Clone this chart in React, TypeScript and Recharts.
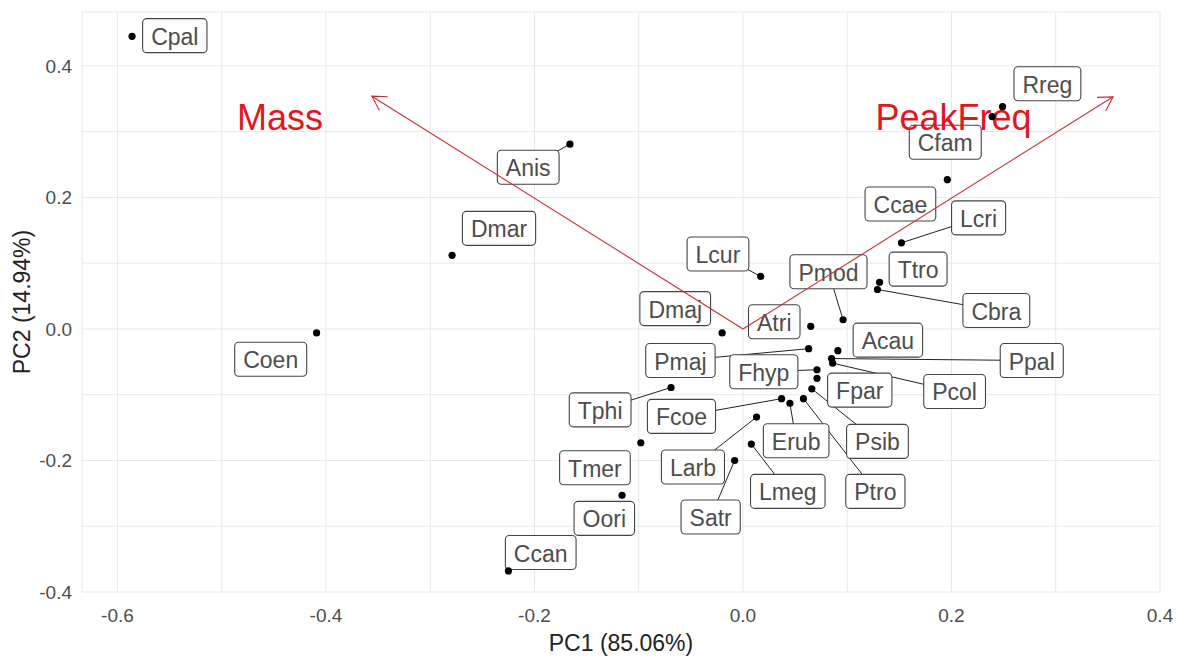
import React from "react";
import { ScatterChart, Scatter, XAxis, YAxis, CartesianGrid } from "recharts";

// species scores on the first two PCs
const species = [
  "Cpal", "Anis", "Dmar", "Coen", "Lcur", "Pmod", "Dmaj", "Atri", "Pmaj", "Fhyp",
  "Fpar", "Acau", "Ppal", "Pcol", "Cbra", "Ttro", "Lcri", "Ccae", "Cfam", "Rreg",
  "Tphi", "Fcoe", "Erub", "Psib", "Ptro", "Larb", "Tmer", "Lmeg", "Satr", "Oori", "Ccan",
];
const pc1 = [
  -0.586, -0.166, -0.279, -0.409, 0.017, 0.096, -0.020, 0.065, 0.063, 0.071,
  0.071, 0.091, 0.085, 0.086, 0.129, 0.131, 0.152, 0.196, 0.239, 0.249,
  -0.069, 0.037, 0.045, 0.066, 0.058, 0.013, -0.098, 0.008, -0.008, -0.116, -0.225,
];
const pc2 = [
  0.445, 0.281, 0.112, -0.006, 0.080, 0.014, -0.006, 0.004, -0.030, -0.062,
  -0.075, -0.033, -0.045, -0.052, 0.060, 0.071, 0.131, 0.227, 0.323, 0.338,
  -0.089, -0.106, -0.113, -0.091, -0.106, -0.134, -0.173, -0.175, -0.200, -0.253, -0.368,
];

// where the repelled labels ended up
const labelPc1 = [
  -0.545, -0.206, -0.234, -0.453, -0.024, 0.082, -0.065, 0.030, -0.060, 0.020,
  0.112, 0.139, 0.277, 0.203, 0.243, 0.168, 0.226, 0.151, 0.194, 0.292,
  -0.137, -0.059, 0.051, 0.129, 0.127, -0.048, -0.142, 0.043, -0.031, -0.133, -0.194,
];
const labelPc2 = [
  0.446, 0.246, 0.153, -0.046, 0.114, 0.087, 0.031, 0.011, -0.048, -0.065,
  -0.093, -0.017, -0.048, -0.095, 0.028, 0.091, 0.169, 0.190, 0.284, 0.373,
  -0.123, -0.133, -0.170, -0.171, -0.247, -0.210, -0.211, -0.247, -0.286, -0.288, -0.340,
];
const hasSegment = [
  false, true, false, false, true, true, false, false, true, true,
  false, false, true, true, true, false, true, false, false, false,
  true, true, true, true, true, true, false, true, true, false, false,
];

// variable loadings (arrows)
const variables = ["Mass", "PeakFreq"];
const loadPc1 = [-0.356, 0.355];
const loadPc2 = [0.354, 0.353];
const varLabelPc1 = [-0.444, 0.202];
const varLabelPc2 = [0.322, 0.322];

const majorX = [-0.6, -0.4, -0.2, 0, 0.2, 0.4];
const minorX = [-0.5, -0.3, -0.1, 0.1, 0.3];
const majorY = [-0.4, -0.2, 0, 0.2, 0.4];
const minorY = [-0.3, -0.1, 0.1, 0.3];

const FONT = '"Liberation Sans", Arial, sans-serif';
const LABEL_SIZE = 23;

const points = species.map((name, i) => ({ name, x: pc1[i], y: pc2[i] }));
const labels = species.map((name, i) => ({ name, x: labelPc1[i], y: labelPc2[i] }));
const segments = species
  .map((name, i) => ({
    name,
    on: hasSegment[i],
    data: [
      { x: pc1[i], y: pc2[i] },
      { x: labelPc1[i], y: labelPc2[i] },
    ],
  }))
  .filter((s) => s.on);
const arrows = variables.map((name, i) => ({
  name,
  data: [
    { x: 0, y: 0 },
    { x: loadPc1[i], y: loadPc2[i] },
  ],
}));
const varLabels = variables.map((name, i) => ({ name, x: varLabelPc1[i], y: varLabelPc2[i] }));

let ctx: CanvasRenderingContext2D | null = null;
function textWidth(s: string, font: string) {
  if (!ctx) ctx = document.createElement("canvas").getContext("2d");
  if (!ctx) return s.length * 12;
  ctx.font = font;
  return ctx.measureText(s).width;
}

const Empty = () => <g />;

const Dot = (props: any) => <circle cx={props.cx} cy={props.cy} r={3.6} fill="#000" />;

const LabelBox = (props: any) => {
  const { cx, cy, payload } = props;
  const w = textWidth(payload.name, `${LABEL_SIZE}px ${FONT}`) + 17;
  const h = 34;
  return (
    <g>
      <rect x={cx - w / 2} y={cy - h / 2} width={w} height={h} rx={4} fill="#fff" stroke="#444" strokeWidth={1.1} />
      <text x={cx} y={cy + 9} textAnchor="middle" fontSize={LABEL_SIZE} fontFamily={FONT} fill="#4d4d4d">
        {payload.name}
      </text>
    </g>
  );
};

const VarLabel = (props: any) => (
  <text x={props.cx} y={props.cy + 13} textAnchor="middle" fontSize={36} fontFamily={FONT} fill="#e3161c">
    {props.payload.name}
  </text>
);

const arrowLine = (props: any) => {
  const pts = props.points || [];
  if (pts.length < 2) return <g />;
  const a = { x: pts[0].x ?? pts[0].cx, y: pts[0].y ?? pts[0].cy };
  const b = { x: pts[1].x ?? pts[1].cx, y: pts[1].y ?? pts[1].cy };
  const ang = Math.atan2(b.y - a.y, b.x - a.x);
  const len = 16;
  const spread = Math.PI / 6;
  const l = [b.x - len * Math.cos(ang - spread), b.y - len * Math.sin(ang - spread)];
  const r = [b.x - len * Math.cos(ang + spread), b.y - len * Math.sin(ang + spread)];
  return (
    <g stroke="#c8302f" strokeWidth={1.1} fill="none">
      <line x1={a.x} y1={a.y} x2={b.x} y2={b.y} />
      <polyline points={`${l[0]},${l[1]} ${b.x},${b.y} ${r[0]},${r[1]}`} />
    </g>
  );
};

const XTick = (props: any) => {
  const v = props.payload.value;
  if (!majorX.includes(v)) return <g />;
  return (
    <text x={props.x} y={props.y + 30} textAnchor="middle" fontSize={19} fontFamily={FONT} fill="#4d4d4d">
      {v.toFixed(1)}
    </text>
  );
};

const YTick = (props: any) => {
  const v = props.payload.value;
  if (!majorY.includes(v)) return <g />;
  return (
    <text x={props.x - 10} y={props.y + 7} textAnchor="end" fontSize={19} fontFamily={FONT} fill="#4d4d4d">
      {v.toFixed(1)}
    </text>
  );
};

const XTitle = (props: any) => {
  const vb = props.viewBox;
  return (
    <text x={vb.x + vb.width / 2} y={vb.y + 59} textAnchor="middle" fontSize={23} fontFamily={FONT} fill="#222">
      PC1 (85.06%)
    </text>
  );
};

const YTitle = (props: any) => {
  const vb = props.viewBox;
  const cy = vb.y + vb.height / 2;
  return (
    <text
      transform={`translate(30, ${cy}) rotate(-90)`}
      textAnchor="middle"
      fontSize={23}
      fontFamily={FONT}
      fill="#222"
    >
      PC2 (14.94%)
    </text>
  );
};

export default function App() {
  const xTicks = [...majorX, ...minorX].sort((a, b) => a - b);
  const yTicks = [...majorY, ...minorY].sort((a, b) => a - b);
  return (
    <div style={{ position: "absolute", left: 0, top: 0, background: "#fff" }}>
      <ScatterChart width={1179} height={659} margin={{ top: 12, right: 19, bottom: 0, left: 0 }}>
        <CartesianGrid stroke="#e8e8e8" strokeWidth={1} />
        <XAxis
          type="number"
          dataKey="x"
          domain={[-0.634, 0.4]}
          allowDataOverflow
          ticks={xTicks}
          interval={0}
          height={67}
          axisLine={false}
          tickLine={false}
          tickSize={0}
          tickMargin={0}
          tick={XTick}
          label={{ content: XTitle }}
        />
        <YAxis
          type="number"
          dataKey="y"
          domain={[-0.4, 0.482]}
          allowDataOverflow
          ticks={yTicks}
          interval={0}
          width={82}
          axisLine={false}
          tickLine={false}
          tickSize={0}
          tickMargin={0}
          tick={YTick}
          label={{ content: YTitle }}
        />
        {segments.map((s) => (
          <Scatter
            key={"seg-" + s.name}
            data={s.data}
            line={{ stroke: "#222", strokeWidth: 1 }}
            shape={Empty}
            isAnimationActive={false}
          />
        ))}
        <Scatter data={labels} shape={LabelBox} isAnimationActive={false} />
        {arrows.map((a) => (
          <Scatter key={"arr-" + a.name} data={a.data} line={arrowLine} shape={Empty} isAnimationActive={false} />
        ))}
        <Scatter data={varLabels} shape={VarLabel} isAnimationActive={false} />
        <Scatter data={points} shape={Dot} isAnimationActive={false} />
      </ScatterChart>
    </div>
  );
}
